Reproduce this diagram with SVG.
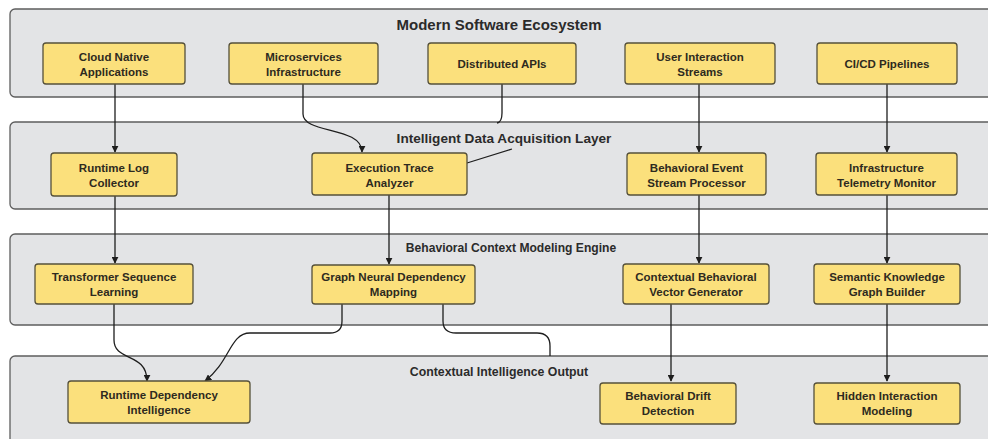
<svg xmlns="http://www.w3.org/2000/svg" width="988" height="439" viewBox="0 0 988 439">
<style>
.cl{fill:#e3e4e6;stroke:#5e5e5e;stroke-width:1.3}
.ct{font-family:"Liberation Sans",Arial,sans-serif;font-weight:bold;fill:#2b2b2b;text-anchor:middle}
.nd rect{fill:#fbe07c;stroke:#55503a;stroke-width:1.3}
.nd text{font-family:"Liberation Sans",Arial,sans-serif;font-weight:bold;font-size:11.5px;fill:#2e2a20;text-anchor:middle}
.ed{fill:none;stroke:#1e1e1e;stroke-width:1.3}
</style>
<defs>
<marker id="ah" viewBox="0 0 10 10" refX="9" refY="5" markerWidth="7" markerHeight="7" markerUnits="userSpaceOnUse" orient="auto">
<path d="M0,0 L10,5 L0,10 Z" fill="#1e1e1e"/>
</marker>
</defs>
<rect width="988" height="439" fill="#ffffff"/>
<g id="clusters">
<g id="c1"><rect class="cl" x="10" y="9" width="990" height="88" rx="5"/><text class="ct" x="499" y="30" font-size="15">Modern Software Ecosystem</text></g>
<g id="c2"><rect class="cl" x="10" y="122" width="990" height="87" rx="5"/><text class="ct" x="504" y="143" font-size="13.6">Intelligent Data Acquisition Layer</text></g>
<g id="c3"><rect class="cl" x="10" y="234" width="990" height="91" rx="5"/><text class="ct" x="511" y="252" font-size="12.1">Behavioral Context Modeling Engine</text></g>
<g id="c4"><rect class="cl" x="10" y="356" width="990" height="100" rx="5"/><text class="ct" x="499" y="375.5" font-size="12.3">Contextual Intelligence Output</text></g>
</g>
<g id="connectors">
<path class="ed" d="M115,84 V152" marker-end="url(#ah)"/>
<path class="ed" d="M303,84 V114 C303,134 362,126 362,152" marker-end="url(#ah)"/>
<path class="ed" d="M502,84 V113 Q502,122 497,123 M512,149 L467,163"/>
<path class="ed" d="M699,84 V152" marker-end="url(#ah)"/>
<path class="ed" d="M887,84 V152" marker-end="url(#ah)"/>
<path class="ed" d="M115,196 V263" marker-end="url(#ah)"/>
<path class="ed" d="M389,195 V264" marker-end="url(#ah)"/>
<path class="ed" d="M699,195 V263" marker-end="url(#ah)"/>
<path class="ed" d="M887,195 V263" marker-end="url(#ah)"/>
<path class="ed" d="M114,304 V340 C114,362 147,352 147,381" marker-end="url(#ah)"/>
<path class="ed" d="M342,304 V321 Q342,333 330,333 H250 C230,333 230,362 205,381" marker-end="url(#ah)"/>
<path class="ed" d="M443,304 V321 Q443,333 456,333 H537 Q550,333 550,346 V356"/>
<path class="ed" d="M671,304 V381" marker-end="url(#ah)"/>
<path class="ed" d="M887,304 V381" marker-end="url(#ah)"/>
</g>
<g id="n-cloud" class="nd"><rect x="43" y="43" width="142" height="41" rx="3"/><text x="114" y="61">Cloud Native</text><text x="114" y="76">Applications</text></g>
<g id="n-micro" class="nd"><rect x="229" y="43" width="149" height="41" rx="3"/><text x="303.5" y="61">Microservices</text><text x="303.5" y="76">Infrastructure</text></g>
<g id="n-dapi" class="nd"><rect x="428" y="43" width="148" height="41" rx="3"/><text x="502" y="67.5">Distributed APIs</text></g>
<g id="n-uis" class="nd"><rect x="625" y="43" width="150" height="41" rx="3"/><text x="700" y="61">User Interaction</text><text x="700" y="76">Streams</text></g>
<g id="n-cicd" class="nd"><rect x="817" y="43" width="140" height="41" rx="3"/><text x="887" y="67.5">CI/CD Pipelines</text></g>
<g id="n-rlc" class="nd"><rect x="51" y="153" width="126" height="43" rx="3"/><text x="114" y="172">Runtime Log</text><text x="114" y="187">Collector</text></g>
<g id="n-eta" class="nd"><rect x="312" y="153" width="155" height="42" rx="3"/><text x="389.5" y="172">Execution Trace</text><text x="389.5" y="187">Analyzer</text></g>
<g id="n-besp" class="nd"><rect x="627" y="153" width="139" height="42" rx="3"/><text x="696.5" y="172">Behavioral Event</text><text x="696.5" y="187">Stream Processor</text></g>
<g id="n-itm" class="nd"><rect x="816" y="153" width="141" height="42" rx="3"/><text x="886.5" y="172">Infrastructure</text><text x="886.5" y="187">Telemetry Monitor</text></g>
<g id="n-tsl" class="nd"><rect x="35" y="264" width="158" height="40" rx="3"/><text x="114" y="281">Transformer Sequence</text><text x="114" y="296">Learning</text></g>
<g id="n-gndm" class="nd"><rect x="312" y="265" width="163" height="39" rx="3"/><text x="393.5" y="281">Graph Neural Dependency</text><text x="393.5" y="296">Mapping</text></g>
<g id="n-cbvg" class="nd"><rect x="623" y="264" width="146" height="40" rx="3"/><text x="696" y="281">Contextual Behavioral</text><text x="696" y="296">Vector Generator</text></g>
<g id="n-skgb" class="nd"><rect x="814" y="264" width="146" height="40" rx="3"/><text x="887" y="281">Semantic Knowledge</text><text x="887" y="296">Graph Builder</text></g>
<g id="n-rdi" class="nd"><rect x="68" y="381" width="182" height="42" rx="3"/><text x="159" y="399">Runtime Dependency</text><text x="159" y="414">Intelligence</text></g>
<g id="n-bdd" class="nd"><rect x="600" y="383" width="136" height="41" rx="3"/><text x="668" y="400">Behavioral Drift</text><text x="668" y="415">Detection</text></g>
<g id="n-him" class="nd"><rect x="814" y="383" width="146" height="41" rx="3"/><text x="887" y="400">Hidden Interaction</text><text x="887" y="415">Modeling</text></g>
</svg>
